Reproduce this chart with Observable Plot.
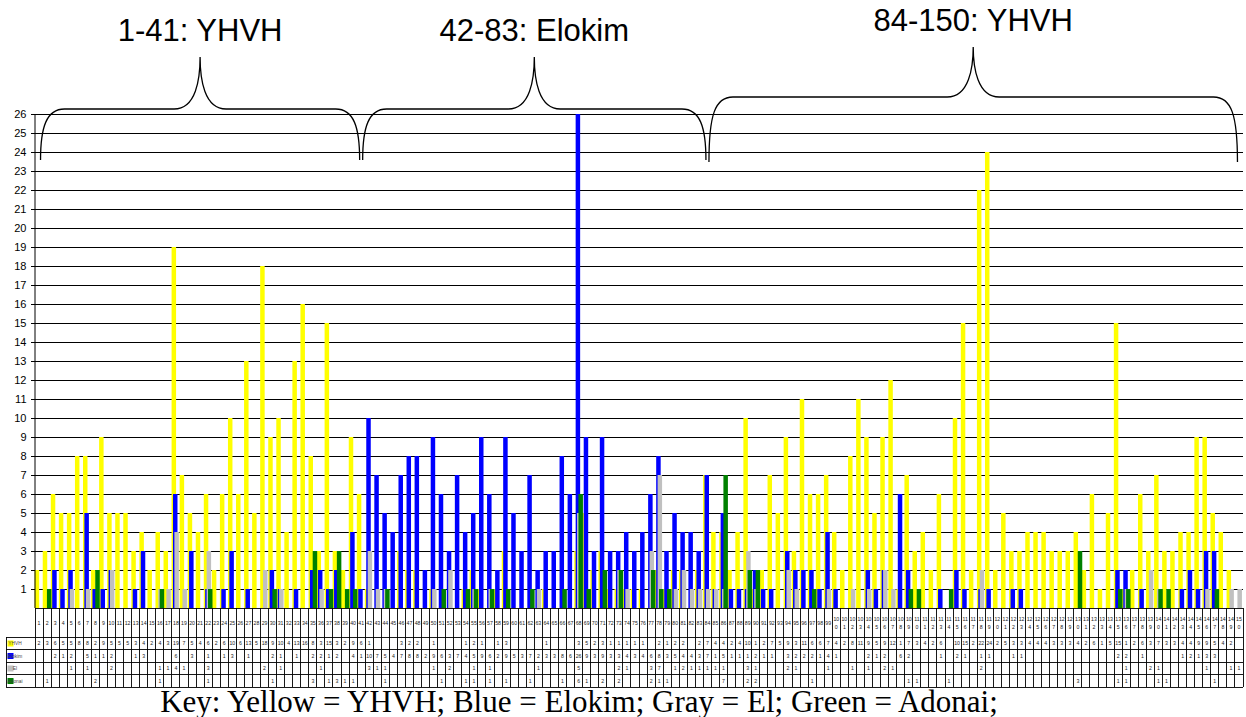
<!DOCTYPE html>
<html>
<head>
<meta charset="utf-8">
<script src="https://cdn.jsdelivr.net/npm/d3@7"></script>
<script src="https://cdn.jsdelivr.net/npm/@observablehq/plot@0.6"></script>
<style>
  html, body { margin: 0; padding: 0; background: #fff; }
  svg { display: block; }
</style>
</head>
<body>
<div id="chart"></div>
<script>
// ---------------- DATA ----------------
const psalms = Array.from({length: 150}, (_, i) => i + 1);

const seriesNames = ["YHVH", "Elokim", "El", "Adonai"];
const seriesColors = ["#FFFF00", "#0000FF", "#C0C0C0", "#008000"];

const yhvh = [
  2,3,6,5,5,8,8,2,9,5,
  5,5,3,4,2,4,3,19,7,5,
  4,6,2,6,10,6,13,5,18,9,
  10,4,13,16,8,3,15,3,2,9,
  6,1,0,0,0,3,2,2,0,1,
  0,0,0,1,2,1,0,1,3,0,
  0,0,0,1,0,0,0,3,5,2,
  3,1,1,1,1,1,0,2,1,2,
  2,0,2,7,4,4,2,4,10,1,
  2,7,5,9,3,11,6,6,7,4,
  2,8,11,9,5,9,12,1,7,3,
  4,2,6,0,10,15,2,22,24,2,
  5,3,3,4,4,4,3,3,3,4,
  2,6,1,5,15,1,2,6,3,7,
  3,3,4,4,9,9,5,4,2,0
];
const elokim = [
  0,0,2,1,2,0,5,1,1,2,
  0,0,1,3,0,0,0,6,0,3,
  0,1,0,1,3,0,1,0,0,2,
  1,0,1,0,2,2,1,2,0,4,
  1,10,7,5,4,7,8,8,2,9,
  6,3,7,4,5,9,6,2,9,5,
  3,7,2,3,3,8,6,26,9,3,
  9,3,3,4,3,4,6,8,3,5,
  4,4,3,7,1,5,1,1,1,2,
  1,1,0,3,2,2,2,1,4,1,
  0,0,0,2,1,2,0,6,2,0,
  0,0,1,0,2,1,0,1,1,0,
  0,1,1,0,0,0,0,0,0,0,
  0,0,0,0,2,2,0,1,0,0,
  0,0,1,2,1,3,3,0,0,0
];
const el = [
  0,0,0,0,1,0,1,0,0,2,
  0,0,0,0,0,1,1,4,1,0,
  0,3,0,0,0,0,0,0,2,0,
  1,0,0,0,0,1,0,0,0,0,
  0,3,1,1,0,0,0,0,0,1,
  0,2,0,0,1,0,1,0,0,0,
  0,0,1,0,0,0,0,5,0,0,
  0,0,2,1,0,0,3,7,0,1,
  2,1,1,1,1,1,0,0,3,1,
  0,0,0,2,1,0,0,0,1,0,
  0,1,0,1,0,2,1,0,0,0,
  0,0,0,0,0,0,0,2,0,0,
  0,0,0,0,0,0,0,0,0,0,
  0,0,0,0,0,1,0,0,2,1,
  0,0,0,0,0,1,0,0,1,1
];
const adonai = [
  0,1,0,0,0,0,0,2,0,0,
  0,0,0,0,0,1,0,0,0,0,
  0,1,0,0,0,0,0,0,0,1,
  0,0,0,0,3,0,1,3,1,1,
  0,0,0,1,0,0,0,0,0,0,
  1,0,0,1,1,0,1,0,1,0,
  0,1,0,0,0,1,0,6,1,0,
  2,0,2,0,0,0,2,1,1,0,
  0,0,0,0,0,7,0,0,2,2,
  0,0,0,0,0,0,1,0,0,0,
  0,0,0,0,0,0,0,0,1,1,
  0,0,0,1,0,0,0,0,0,0,
  0,0,0,0,0,0,0,0,0,3,
  0,0,0,0,1,1,0,0,0,1,
  1,0,0,0,0,0,1,0,0,0
];

const yTicks = [1,2,3,4,5,6,7,8,9,10,11,12,13,14,15,16,17,18,19,20,21,22,23,24,25,26];
const sectionFrom = [1, 41, 84];
const sectionTo = [41, 84, 150];
const sectionLabels = ["1-41: YHVH", "42-83: Elokim", "84-150: YHVH"];
const keyText = "Key: Yellow = YHVH; Blue = Elokim; Gray = El; Green = Adonai;";

// ---------------- CHART ----------------
const seriesValues = [yhvh, elokim, el, adonai];
const rows = seriesValues.map(vals =>
  psalms.map((p, j) => ({psalm: p, value: vals[j]})).filter(d => d.value > 0));

const W = 1246, H = 717;
const M = {left: 35, right: 3, top: 114, bottom: 109};
const bw = (W - M.left - M.right) / psalms.length;
const barW = 4.5, step = 1.4;
const inset = i => {
  const l = bw / 2 - (barW + 3 * step) / 2 + i * step;
  return {insetLeft: l, insetRight: bw - l - barW};
};

const chart = Plot.plot({
  width: W, height: H,
  marginLeft: M.left, marginRight: M.right, marginTop: M.top, marginBottom: M.bottom,
  style: {background: "#fff", fontFamily: "'Liberation Sans', Arial, sans-serif", color: "#000", overflow: "visible"},
  x: {type: "band", domain: psalms, padding: 0, round: false, axis: null},
  y: {domain: [0, 26], label: null, axis: null},
  marks: [
    Plot.gridY(yTicks, {stroke: "#000", strokeOpacity: 1, strokeWidth: 1}),
    ...rows.map((r, i) => Plot.barY(r, {x: "psalm", y: "value", fill: seriesColors[i], ...inset(i)})),
    Plot.axisY(yTicks, {tickSize: 4, tickPadding: 5, fontSize: 11, label: null})
  ]
});
document.getElementById("chart").appendChild(chart);

// ---------------- TABLE, BRACES, KEY ----------------
const svg = d3.select(chart);
const xs = chart.scale("x");
const ys = chart.scale("y");
const bandW = xs.bandwidth;
const leftOf = p => xs.apply(p);
const cx = p => xs.apply(p) + bandW / 2;
const y0 = ys.apply(0), yTop = ys.apply(26);

// left axis line
svg.append("line").attr("x1", M.left).attr("x2", M.left).attr("y1", yTop).attr("y2", y0)
  .attr("stroke", "#000").attr("stroke-width", 1);

const headerH = 29, rowH = 12.5, keyLeft = 6;
const xL = leftOf(psalms[0]), xR = leftOf(psalms[psalms.length - 1]) + bandW;
const rowTop = i => y0 + headerH + i * rowH;
const tableBottom = rowTop(seriesNames.length);

const tg = svg.append("g").attr("stroke", "#000").attr("stroke-width", 0.9).attr("shape-rendering", "crispEdges");
// top line
tg.append("line").attr("x1", xL).attr("x2", xR).attr("y1", y0).attr("y2", y0);
// row lines
for (let i = 0; i <= seriesNames.length; i++) {
  tg.append("line").attr("x1", keyLeft).attr("x2", xR).attr("y1", rowTop(i)).attr("y2", rowTop(i));
}
// column lines
psalms.forEach(p => {
  tg.append("line").attr("x1", leftOf(p)).attr("x2", leftOf(p)).attr("y1", y0).attr("y2", tableBottom);
});
tg.append("line").attr("x1", xR).attr("x2", xR).attr("y1", y0).attr("y2", tableBottom);
tg.append("line").attr("x1", keyLeft).attr("x2", keyLeft).attr("y1", rowTop(0)).attr("y2", tableBottom);

// header numbers
const hg = svg.append("g").attr("font-size", 5.2).attr("fill", "#222").attr("text-anchor", "middle")
  .attr("font-family", "'Liberation Sans', Arial, sans-serif");
psalms.forEach(p => {
  const s = String(p);
  if (s.length < 3) {
    hg.append("text").attr("x", cx(p)).attr("y", y0 + headerH / 2 + 2).text(s);
  } else {
    hg.append("text").attr("x", cx(p)).attr("y", y0 + headerH / 2 - 2).text(s.slice(0, 2));
    hg.append("text").attr("x", cx(p)).attr("y", y0 + headerH / 2 + 6).text(s.slice(2));
  }
});

// values
seriesValues.forEach((vals, i) => {
  const g = svg.append("g").attr("font-size", 5.2).attr("fill", "#222").attr("text-anchor", "middle")
    .attr("font-family", "'Liberation Sans', Arial, sans-serif");
  psalms.forEach((p, j) => {
    if (vals[j] > 0) g.append("text").attr("x", cx(p)).attr("y", rowTop(i) + rowH / 2 + 2).text(vals[j]);
  });
  // key cell
  svg.append("rect").attr("x", keyLeft + 1.5).attr("y", rowTop(i) + 3.5).attr("width", 6).attr("height", 6)
    .attr("fill", seriesColors[i]);
  svg.append("text").attr("x", keyLeft + 9).attr("y", rowTop(i) + rowH / 2 + 2)
    .attr("font-size", 4.8).attr("fill", "#444").attr("font-family", "'Liberation Sans', Arial, sans-serif")
    .text(seriesNames[i]);
});

// braces
const braceH = [109, 109, 97], braceP = [57, 57, 47], braceE = [160, 160, 162];
function bracePath(x0, x1, yH, yP, yE) {
  const xm = (x0 + x1) / 2, r = 24, rp = 26;
  return `M${x0},${yE} C${x0},${yH + 18} ${x0 + 6},${yH} ${x0 + r},${yH}` +
    ` L${xm - rp},${yH} C${xm - 4},${yH} ${xm},${yH - 30} ${xm},${yP}` +
    ` C${xm},${yH - 30} ${xm + 4},${yH} ${xm + rp},${yH}` +
    ` L${x1 - r},${yH} C${x1 - 6},${yH} ${x1},${yH + 18} ${x1},${yE}`;
}
sectionFrom.forEach((f, i) => {
  const x0 = cx(f) + 1.5, x1 = cx(sectionTo[i]) - 1.5;
  svg.append("path").attr("d", bracePath(x0, x1, braceH[i], braceP[i], braceE[i]))
    .attr("fill", "none").attr("stroke", "#000").attr("stroke-width", 1.3);
  svg.append("text").attr("x", (x0 + x1) / 2).attr("y", braceP[i] - 16)
    .attr("text-anchor", "middle").attr("font-size", 31).attr("fill", "#000")
    .attr("font-family", "'Liberation Sans', Arial, sans-serif")
    .text(sectionLabels[i]);
});

// key caption
svg.append("text").attr("x", 579).attr("y", 712).attr("text-anchor", "middle")
  .attr("font-size", 31).attr("fill", "#000")
  .attr("font-family", "'Liberation Serif', 'Times New Roman', serif")
  .text(keyText);
</script>
</body>
</html>
